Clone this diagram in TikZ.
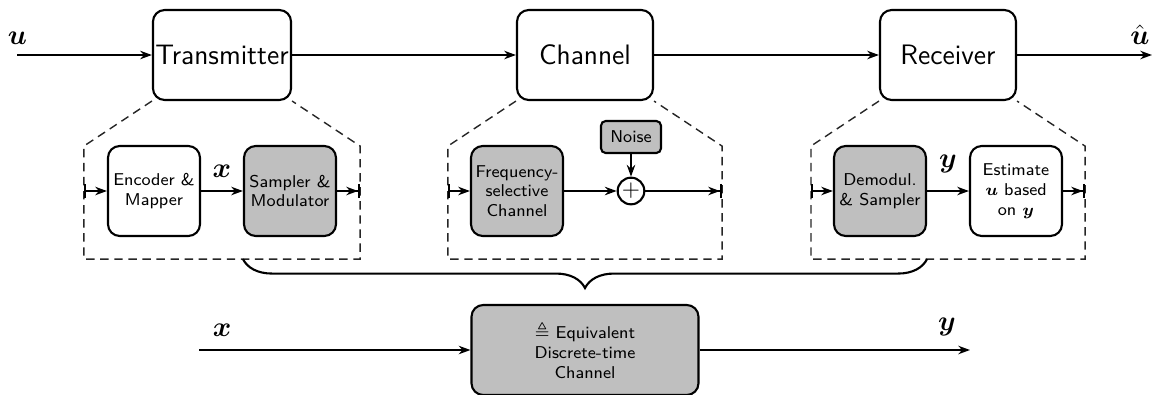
\documentclass[tikz,border=0pt]{standalone}
\usepackage{amsmath}
\usepackage{amssymb}
\usetikzlibrary{arrows.meta, positioning, calc, decorations.pathreplacing}

\begin{document}
\begin{tikzpicture}[
    >={Stealth[length=5pt,width=3.6pt]},
    font=\sffamily,
    blk/.style={rectangle, draw, line width=0.9pt, rounded corners=5pt, minimum width=2.04cm,
                minimum height=1.35cm, inner sep=1pt, font=\sffamily\large},
    sub/.style={rectangle, draw, line width=0.9pt, rounded corners=5pt, minimum width=1.38cm,
                minimum height=1.35cm, inner sep=1pt, align=center, fill=white,
                font=\sffamily\fontsize{7.3}{8.4}\selectfont},
    subg/.style={sub, fill=black!25},
    sig/.style={->, line width=0.9pt},
    barin/.style={{Bar[width=6pt]}-{Stealth[length=5pt,width=3.6pt]}, line width=0.9pt},
    barout/.style={-{Stealth[length=5pt,width=3.6pt] Bar[width=6pt]}, line width=0.9pt},
    zoomline/.style={dash pattern=on 3.6pt off 2.4pt, line width=0.6pt, black!85},
    lbl/.style={font=\large},
]

\useasboundingbox (0,0) rectangle (17.46,-5.91);

% === Top chain ===

\node[blk] (tx) at (3.33, -0.825) {Transmitter};
\node[blk] (ch) at (8.775, -0.825) {Channel};
\node[blk] (rx) at (14.22, -0.825) {Receiver};

\coordinate (u-in) at (0.255, -0.825);
\coordinate (u-out) at (17.28, -0.825);
\node[lbl] (ulbl) at (0.26, -0.57) {$\boldsymbol{u}$};
\node[lbl] (uhatlbl) at (17.1, -0.52) {$\hat{\boldsymbol{u}}$};

\draw[sig] (u-in) -- (tx);
\draw[sig] (tx) -- (ch);
\draw[sig] (ch) -- (rx);
\draw[sig] (rx) -- (u-out);

% Dashed zoom outlines below each block
\foreach \b in {tx, ch, rx} {
    \draw[zoomline] (\b.south west) -- ++(-1.02, -0.675) coordinate (\b-nw)
        -- ++(0, -1.695) coordinate (\b-sw)
        -- ($(\b.south east) + (1.02, -2.37)$) coordinate (\b-se)
        -- ++(0, 1.695) coordinate (\b-ne) -- (\b.south east);
}

% === Transmitter details ===

\node[sub] (enc) at (2.31, -2.865) {Encoder \&\\Mapper};
\node[subg] (smod) at (4.35, -2.865) {Sampler \&\\Modulator};

\draw[barin] (tx-nw |- enc) -- (enc);
\draw[sig] (enc) -- node[lbl, above=2pt] (xlbl) {$\boldsymbol{x}$} (smod);
\draw[barout] (smod) -- (tx-ne |- smod);

% === Channel details ===

\node[subg] (fsc) at (7.755, -2.865) {Frequency-\\selective\\Channel};
\node[circle, draw, line width=0.9pt, fill=white, minimum size=0.4cm, inner sep=0pt]
    (sum) at (9.465, -2.865) {$+$};
\node[subg, minimum width=0.9cm, minimum height=0.48cm, rounded corners=2pt]
    (noise) at (9.465, -2.055) {Noise};

\draw[barin] (ch-nw |- fsc) -- (fsc);
\draw[sig] (fsc) -- (sum);
\draw[sig] (noise) -- (sum);
\draw[barout] (sum) -- (ch-ne |- sum);

% === Receiver details ===

\node[subg] (demod) at (13.2, -2.865) {Demodul.\\\& Sampler};
\node[sub] (est) at (15.24, -2.865) {Estimate\\$\boldsymbol{u}$ based\\on $\boldsymbol{y}$};

\draw[barin] (rx-nw |- demod) -- (demod);
\draw[sig] (demod) -- node[lbl, above=4pt] (ylbl) {$\boldsymbol{y}$} (est);
\draw[barout] (est) -- (rx-ne |- est);

% === Equivalent discrete-time channel ===

\draw[decorate, decoration={brace, amplitude=0.435cm, mirror}, line width=0.9pt]
    (smod.west |- tx-sw) -- (demod.east |- rx-sw);

\node[subg, minimum width=3.405cm] (eqch) at (8.775, -5.25)
    {$\triangleq$ Equivalent\\Discrete-time\\Channel};

\coordinate (x-in) at (2.985, -5.25);
\coordinate (y-out) at (14.55, -5.25);

\draw[sig] (x-in) -- node[lbl, pos=0.085, above=2pt] (xlbl2) {$\boldsymbol{x}$} (eqch);
\draw[sig] (eqch) -- node[lbl, pos=0.915, above=2pt] (ylbl2) {$\boldsymbol{y}$} (y-out);

\end{tikzpicture}
\end{document}
